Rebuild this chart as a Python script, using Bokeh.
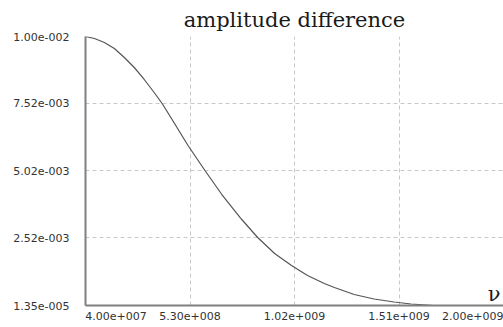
from bokeh.plotting import figure
from bokeh.models import FixedTicker, Label, Range1d
from bokeh.embed import file_html
from bokeh.resources import INLINE

# data
freq = [4.00e7, 8.20e7, 1.287e8, 1.753e8, 2.22e8, 2.687e8, 3.153e8, 3.62e8, 3.993e8,
        4.46e8, 5.207e8, 6.00e8, 6.793e8, 7.727e8, 8.473e8, 9.267e8, 1.006e9, 1.081e9,
        1.16e9, 1.207e9, 1.30e9, 1.393e9, 1.487e9, 1.566e9, 1.673e9]
amp = [1.000e-2, 9.926e-3, 9.777e-3, 9.555e-3, 9.220e-3, 8.849e-3, 8.404e-3, 7.921e-3, 7.513e-3,
       6.919e-3, 5.954e-3, 5.025e-3, 4.134e-3, 3.206e-3, 2.538e-3, 1.944e-3, 1.499e-3, 1.127e-3,
       8.30e-4, 6.82e-4, 4.22e-4, 2.55e-4, 1.43e-4, 6.9e-5, 1.35e-5]

x_ticks = [4.00e7, 5.30e8, 1.02e9, 1.51e9, 2.00e9]
x_labels = ["4.00e+007", "5.30e+008", "1.02e+009", "1.51e+009", "2.00e+009"]
y_ticks = [1.35e-5, 2.52e-3, 5.02e-3, 7.52e-3, 1.00e-2]
y_labels = ["1.35e-005", "2.52e-003", "5.02e-003", "7.52e-003", "1.00e-002"]
title_text = "amplitude difference"
x_name = "ν"

W, H = 503, 327
ML, MT, MB = 85, 36, 22
FRAME_W = W - ML

p = figure(width=W, height=H, output_backend="svg", toolbar_location=None,
           x_range=Range1d(x_ticks[0], x_ticks[-1]),
           y_range=Range1d(y_ticks[0], y_ticks[-1]),
           min_border_left=ML, min_border_right=0, min_border_top=MT, min_border_bottom=MB)
p.outline_line_color = None
p.background_fill_color = "white"
p.border_fill_color = "white"

p.title.text = title_text
p.title.text_font = "DejaVu Serif"
p.title.text_font_size = "21px"
p.title.text_font_style = "normal"
p.title.text_color = "#1a1a1a"
p.title.align = "center"

p.line(freq, amp, line_color="#555555", line_width=1.2)

for ax in (p.xaxis[0], p.yaxis[0]):
    ax.axis_line_color = "#808080"
    ax.axis_line_width = 2
    ax.major_tick_out = 0
    ax.major_tick_in = 0
    ax.minor_tick_out = 0
    ax.minor_tick_in = 0
    ax.major_label_text_font = "DejaVu Sans"
    ax.major_label_text_font_size = "11px"
    ax.major_label_text_color = "#333333"

# the first label starts at the left end of the axis and the last one ends at its
# right end (as in the reference): shift their label anchors by half a label width
half_label_px = 30.5
units_per_px = (x_ticks[-1] - x_ticks[0]) / FRAME_W
label_pos = list(x_ticks)
label_pos[0] = x_ticks[0] + half_label_px * units_per_px
label_pos[-1] = x_ticks[-1] - half_label_px * units_per_px
p.xaxis[0].ticker = FixedTicker(ticks=label_pos)
p.xaxis[0].major_label_overrides = {t: l for t, l in zip(label_pos, x_labels)}
p.xaxis[0].major_label_standoff = 6

p.yaxis[0].ticker = FixedTicker(ticks=y_ticks)
p.yaxis[0].major_label_overrides = {t: l for t, l in zip(y_ticks, y_labels)}
p.yaxis[0].major_label_standoff = 16

for g in (p.xgrid[0], p.ygrid[0]):
    g.grid_line_color = "#c8c8c8"
    g.grid_line_dash = "4 3"
    g.grid_line_width = 1
p.xgrid[0].ticker = FixedTicker(ticks=x_ticks[:-1])
p.ygrid[0].ticker = FixedTicker(ticks=y_ticks)

p.add_layout(Label(x=x_ticks[-1], y=y_ticks[0], text=x_name, text_align="right",
                   text_baseline="bottom", x_offset=-3,
                   text_font="DejaVu Serif", text_font_size="21px", text_color="#1a1a1a"))

open("out.html", "w").write(file_html(p, INLINE))
